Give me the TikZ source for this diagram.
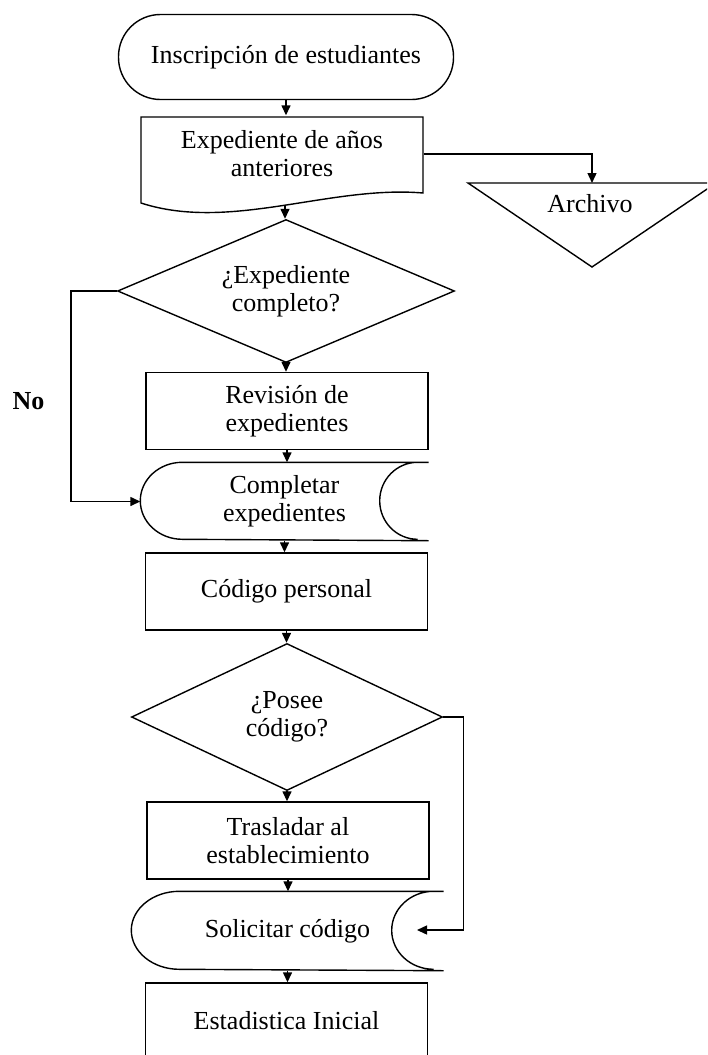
\documentclass[tikz,border=0pt]{standalone}
\usepackage{fontspec}
\setmainfont{Liberation Serif}
\usetikzlibrary{shapes.geometric, arrows.meta}

\begin{document}
\begin{tikzpicture}[x=1pt, y=-1pt, line width=1.4pt,
    font=\fontsize{26}{28}\selectfont,
    every node/.style={align=center, inner sep=0pt},
    inicio/.style={draw, rectangle, rounded corners=42pt, minimum width=335pt, minimum height=85pt},
    proceso/.style={draw, rectangle, minimum width=282pt, minimum height=77pt},
    decision/.style={draw, diamond, aspect=2.36, minimum width=337pt, minimum height=143pt},
    datos/.style={rectangle, minimum width=287pt, minimum height=77pt},
    flecha/.style={-{Triangle[length=10pt, width=9pt]}}]
    \useasboundingbox (0,0) rectangle (707,1055);
    \clip (0,0) rectangle (707,1055);

    % Inicio
    \node[inicio] (inscripcion) at (286,57) {Inscripción de estudiantes};

    % Documento
    \node[rectangle, minimum width=282pt, minimum height=76pt] (expediente) at (282,154) {Expediente de años\\anteriores};
    \draw (141,203) .. controls (230,232) and (330,185) .. (423,193)
        -- (423,117) -- (141,117) -- cycle;
    \coordinate (expediente-base) at (285,206);

    % Archivo
    \coordinate (archivo-a) at (468,183);
    \coordinate (archivo-b) at (716,183);
    \coordinate (archivo-c) at (592,267);
    \coordinate (archivo-top) at (592,183);
    \draw (archivo-a) -- (archivo-b) -- (archivo-c) -- cycle;
    \node (archivo) at (590,204) {Archivo};

    % Primera decision
    \node[decision] (completo) at (286,291) {¿Expediente\\completo?};
    \node[proceso] (revision) at (287,411) {Revisión de\\expedientes};
    \node[datos] (completar) at (284.5,501.5) {Completar\\expedientes};
    \draw (completar.north east) -- ([xshift=42pt]completar.north west)
        arc[start angle=90, end angle=270, x radius=42pt, y radius=38.5pt] -- (completar.south east)
        ([xshift=-11pt]completar.north east) arc[start angle=90, end angle=270, x radius=38pt, y radius=38.5pt];
    \node[font=\fontsize{26}{28}\selectfont\bfseries] (no) at (28.5,401) {No};

    % Segunda decision
    \node[proceso] (codigo) at (286.5,591.5) {Código personal};
    \node[decision, aspect=2.12, minimum width=311pt, minimum height=147pt] (posee) at (287,717) {¿Posee\\código?};
    \node[proceso] (traslado) at (288,840.5) {Trasladar al\\establecimiento};
    \node[datos, minimum width=311pt, minimum height=78pt] (solicitar) at (287.5,931) {Solicitar código};
    \draw (solicitar.north east) -- ([xshift=48pt]solicitar.north west)
        arc[start angle=90, end angle=270, x radius=48pt, y radius=39pt] -- (solicitar.south east)
        ([xshift=-10pt]solicitar.north east) arc[start angle=90, end angle=270, x radius=42pt, y radius=39pt];
    \coordinate (solicitar-in) at (417,930);
    \node[proceso, minimum height=76pt] (estadistica) at (286.5,1021) {Estadistica Inicial};

    % Conectores
    \foreach \a/\b in {inscripcion/expediente, expediente-base/completo, completo/revision,
        revision/completar, completar/codigo, codigo/posee, posee/traslado,
        traslado/solicitar, solicitar/estadistica}
        \draw[flecha] (\a.south) -- (\a.south |- \b.north);
    \draw[flecha] (expediente.east) -| (archivo-top);
    \draw[flecha] (completo.west) -- ++(-46,0) |- (completar.west);
    \draw[flecha] (posee.east) -- ++(20,0) |- (solicitar-in);
\end{tikzpicture}
\end{document}
